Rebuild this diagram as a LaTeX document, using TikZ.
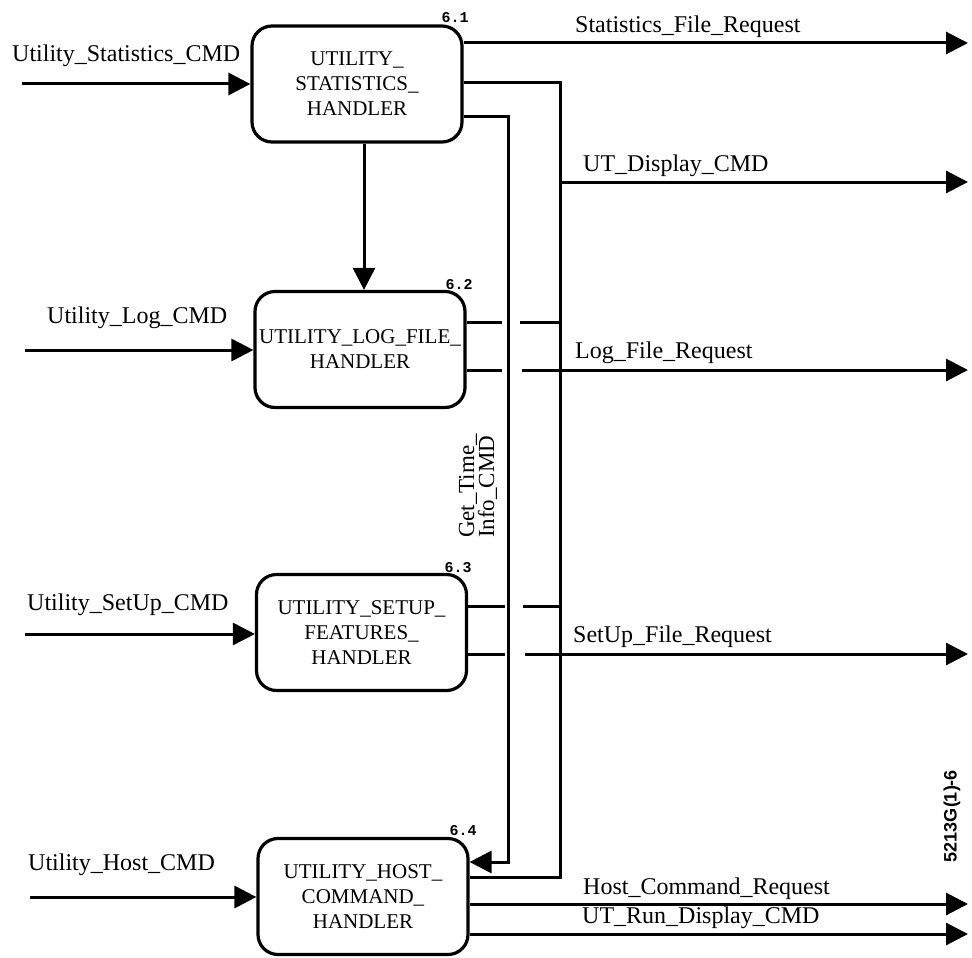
\documentclass[tikz,border=0pt]{standalone}
\usepackage{fontspec}
\setmainfont{Liberation Serif}
\newfontfamily\numfont{Liberation Sans}
\newfontfamily\tagfont{Liberation Mono}
\usetikzlibrary{arrows.meta}
\begin{document}
\begin{tikzpicture}[x=1pt,y=-1pt,
  proc/.style={draw,line width=3.2pt,rounded corners=20pt,minimum width=210pt,minimum height=116pt,
    align=center,inner sep=0pt,font=\fontsize{21}{25}\selectfont},
  flow/.style={line width=3pt},
  arr/.style={line width=3pt,-{Triangle[length=22pt,width=22pt]}},
  lbl/.style={font=\fontsize{24}{26}\selectfont,inner sep=0pt},
  num/.style={font=\tagfont\bfseries\fontsize{15}{16}\selectfont,inner sep=0pt}]
\useasboundingbox (0,0) rectangle (972,958);

% process boxes
\node[proc] (b1) at (357,84) {UTILITY\_\\STATISTICS\_\\HANDLER};
\node[proc] (b2) at (360,349.5) {UTILITY\_LOG\_FILE\_\\HANDLER};
\node[proc] (b3) at (361.5,632.5) {UTILITY\_SETUP\_\\FEATURES\_\\HANDLER};
\node[proc] (b4) at (363,896.5) {UTILITY\_HOST\_\\COMMAND\_\\HANDLER};

\node[num] (n1) at (455,18) {6.1};
\node[num] (n2) at (459,285) {6.2};
\node[num] (n3) at (458,568) {6.3};
\node[num] (n4) at (463,831) {6.4};

% inputs
\coordinate (i1) at (22,84);
\coordinate (i2) at (25,350);
\coordinate (i3) at (25,634);
\coordinate (i4) at (30,897);
\draw[arr] (i1) -- (b1.west |- i1);
\draw[arr] (i2) -- (b2.west |- i2);
\draw[arr] (i3) -- (b3.west |- i3);
\draw[arr] (i4) -- (b4.west |- i4);
\node[lbl,anchor=west] (ti1) at (12,56) {Utility\_Statistics\_CMD};
\node[lbl,anchor=west] (ti2) at (47,318) {Utility\_Log\_CMD};
\node[lbl,anchor=west] (ti3) at (27,605) {Utility\_SetUp\_CMD};
\node[lbl,anchor=west] (ti4) at (28,865) {Utility\_Host\_CMD};

% box1 -> box2
\coordinate (c12) at (364,0);
\draw[arr] (b1.south -| c12) -- (b2.north -| c12);

% outputs
\coordinate (o1) at (968,43);
\coordinate (o2) at (968,182);
\coordinate (o3) at (968,370);
\coordinate (o4) at (968,654);
\coordinate (o5) at (968,904);
\coordinate (o6) at (968,934);

\draw[arr] (b1.east |- o1) -- (o1);

% display bus
\coordinate (bus1) at (560,83);
\coordinate (bus4) at (560,877);
\draw[flow] (b1.east |- bus1) -- (bus1) -- (bus4) -- (b4.east |- bus4);
\draw[arr] (bus1 |- o2) -- (o2);

% Get_Time_Info_CMD
\coordinate (g1) at (508,116);
\coordinate (g4) at (508,862);
\draw[arr] (b1.east |- g1) -- (g1) -- (g4) -- (b4.east |- g4);

% box2 lines (with jump gaps over Get_Time line)
\coordinate (j2a) at (502,322);
\coordinate (j2b) at (520,322);
\draw[flow] (b2.east |- j2a) -- (j2a);
\draw[flow] (j2b) -- (bus1 |- j2b);
\coordinate (j2c) at (502,370);
\coordinate (j2d) at (522,370);
\draw[flow] (b2.east |- j2c) -- (j2c);
\draw[arr] (j2d) -- (o3);

% box3 lines
\coordinate (j3a) at (505,606);
\coordinate (j3b) at (523,606);
\draw[flow] (b3.east |- j3a) -- (j3a);
\draw[flow] (j3b) -- (bus1 |- j3b);
\coordinate (j3c) at (505,654);
\coordinate (j3d) at (525,654);
\draw[flow] (b3.east |- j3c) -- (j3c);
\draw[arr] (j3d) -- (o4);

% box4 outputs
\draw[arr] (b4.east |- o5) -- (o5);
\draw[arr] (b4.east |- o6) -- (o6);

% output labels
\node[lbl,anchor=west] (to1) at (575,27) {Statistics\_File\_Request};
\node[lbl,anchor=west] (to2) at (583,166) {UT\_Display\_CMD};
\node[lbl,anchor=west] (to3) at (575,353) {Log\_File\_Request};
\node[lbl,anchor=west] (to4) at (573,637) {SetUp\_File\_Request};
\node[lbl,anchor=west] (to5) at (583,889) {Host\_Command\_Request};
\node[lbl,anchor=west] (to6) at (582,918) {UT\_Run\_Display\_CMD};

% rotated labels
\node[rotate=90,align=left,inner sep=0pt,font=\fontsize{23}{20}\selectfont] (gt) at (478,486) {Get\_Time\_\\Info\_CMD};
\node[rotate=90,inner sep=0pt,font=\numfont\bfseries\fontsize{18}{20}\selectfont] (id) at (952,816) {5213G(1)-6};
\end{tikzpicture}
\end{document}
